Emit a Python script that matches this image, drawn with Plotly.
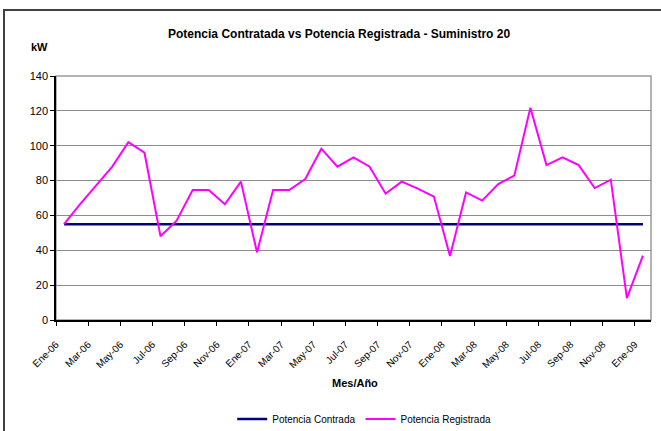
import plotly.graph_objects as go

months = ["Ene-06","Feb-06","Mar-06","Abr-06","May-06","Jun-06","Jul-06","Ago-06","Sep-06","Oct-06","Nov-06","Dic-06",
          "Ene-07","Feb-07","Mar-07","Abr-07","May-07","Jun-07","Jul-07","Ago-07","Sep-07","Oct-07","Nov-07","Dic-07",
          "Ene-08","Feb-08","Mar-08","Abr-08","May-08","Jun-08","Jul-08","Ago-08","Sep-08","Oct-08","Nov-08","Dic-08",
          "Ene-09"]
contratada = [55] * 37
registrada = [55, 66.5, 77.3, 88, 102, 96, 48, 57, 74.6, 74.6, 66.4, 79.4,
              38.8, 74.6, 74.6, 80.9, 98.3, 88, 93.3, 88, 72.5, 79.4, 75.4, 70.8,
              36.7, 73.2, 68.5, 78, 82.8, 121.8, 88.9, 93.3, 88.9, 75.7, 80.5, 12.6,
              36.9]
y_ticks = [0, 20, 40, 60, 80, 100, 120, 140]

x = list(range(len(months)))
tickvals = [i - 0.5 for i in range(0, len(months), 2)]
ticktext = months[::2]

FONT = "Liberation Sans, Arial"

fig = go.Figure()
fig.add_trace(go.Scatter(x=x, y=contratada, mode="lines", name="Potencia Contrada",
                         line=dict(color="#000080", width=2.5)))
fig.add_trace(go.Scatter(x=x, y=registrada, mode="lines", name="Potencia Registrada",
                         line=dict(color="#FF00FF", width=2)))

fig.update_layout(
    width=661, height=431,
    margin=dict(l=56, r=10, t=76, b=111, autoexpand=False),
    paper_bgcolor="white", plot_bgcolor="white",
    font=dict(family=FONT, size=11, color="black"),
    title=dict(text="<b>Potencia Contratada vs Potencia Registrada - Suministro 20</b>",
               x=0.513, xanchor="center", y=1 - 34/431, yanchor="middle",
               font=dict(family=FONT, size=12, color="black")),
    showlegend=True,
    legend=dict(orientation="h", x=0.518, xanchor="center", y=-0.406, yanchor="middle",
                font=dict(family=FONT, size=10), tracegroupgap=0),
    xaxis=dict(range=[-0.5, len(months) - 0.5], tickvals=tickvals, ticktext=ticktext,
               tickangle=-45, ticks="outside", ticklen=4, tickcolor="black",
               ticklabelstandoff=9,
               showline=True, linecolor="black", linewidth=1.5, showgrid=False, zeroline=False,
               automargin=False, tickfont=dict(family=FONT, size=10)),
    yaxis=dict(range=[0, 140], tickvals=y_ticks, ticks="outside", ticklen=4, tickcolor="black",
               showline=True, linecolor="black", linewidth=1.5, showgrid=True,
               gridcolor="#8c8c8c", gridwidth=1, zeroline=False, automargin=False,
               tickfont=dict(family=FONT, size=11)),
    annotations=[
        dict(text="<b>kW</b>", xref="paper", yref="paper", x=-0.027, y=1.119,
             showarrow=False, font=dict(family=FONT, size=11), xanchor="center", yanchor="middle"),
        dict(text="<b>Mes/Año</b>", xref="paper", yref="paper", x=0.5025, y=-0.258,
             showarrow=False, font=dict(family=FONT, size=11), xanchor="center", yanchor="middle"),
    ],
    shapes=[
        dict(type="rect", xref="paper", yref="paper", x0=0, x1=1, y0=0, y1=1,
             line=dict(color="#9a9a9a", width=1.5), layer="below"),
        dict(type="rect", xref="paper", yref="paper", x0=-0.0874, x1=2, y0=-2, y1=1.2705,
             line=dict(color="#404040", width=2), layer="above"),
    ],
)

fig.write_html("out.html", config={"displayModeBar": False},
               post_script="document.body.style.margin='0';document.body.style.padding='0';")
